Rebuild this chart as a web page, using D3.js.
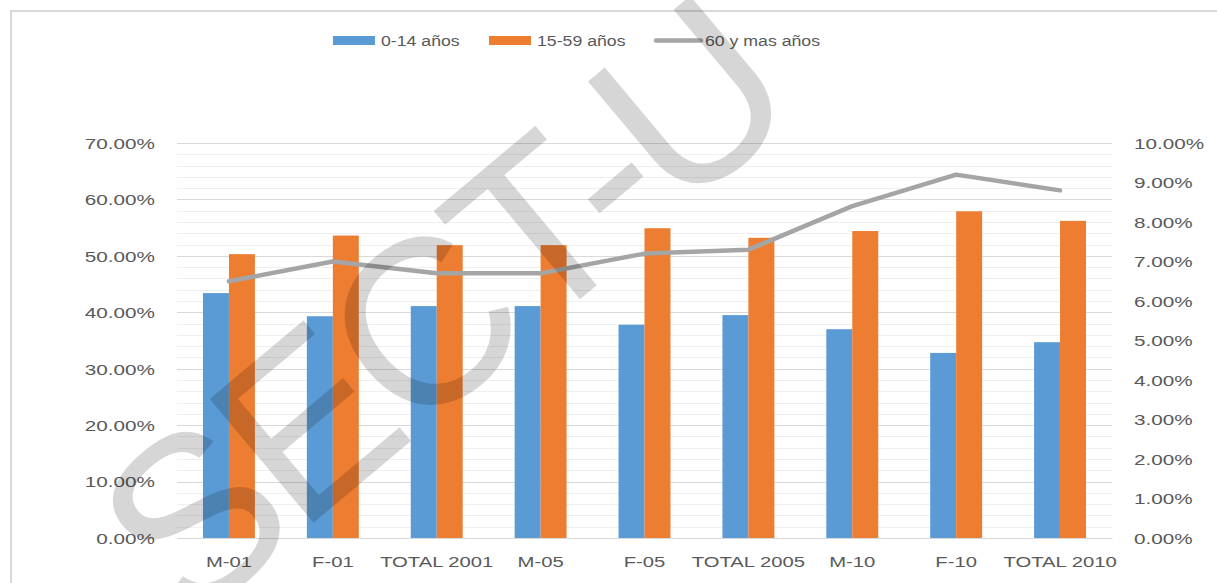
<!DOCTYPE html>
<html>
<head>
<meta charset="utf-8">
<script src="https://cdn.jsdelivr.net/npm/d3@7"></script>
<style>
  body { margin: 0; background: #fff; }
  svg { display: block; font-family: "Liberation Sans", Arial, sans-serif; }
</style>
</head>
<body>
<svg id="chart" width="1217" height="583"></svg>
<script>
const categories = ['M-01', 'F-01', 'TOTAL 2001', 'M-05', 'F-05', 'TOTAL 2005', 'M-10', 'F-10', 'TOTAL 2010'];
const age0to14 = [0.434, 0.393, 0.411, 0.411, 0.378, 0.395, 0.370, 0.328, 0.347];
const age15to59 = [0.503, 0.536, 0.519, 0.519, 0.549, 0.532, 0.544, 0.579, 0.562];
const age60plus = [0.065, 0.070, 0.067, 0.067, 0.072, 0.073, 0.084, 0.092, 0.088];
const seriesNames = ['0-14 años', '15-59 años', '60 y mas años'];

const w = 1217;
const h = 583;
const margin = { top: 143, right: 105, bottom: 45, left: 177 };
const plotW = w - margin.left - margin.right;
const plotH = h - margin.top - margin.bottom;

const blue = '#5b9bd5';
const orange = '#ed7d31';
const gray = '#a5a5a5';
const textColor = '#595959';

const svg = d3.select('#chart');

// chart frame
svg.append('rect').attr('x', 11).attr('y', 11).attr('width', w + 20).attr('height', h + 20)
    .attr('fill', 'none').attr('stroke', '#d9d9d9').attr('stroke-width', 2);

const g = svg.append('g').attr('transform', `translate(${margin.left},${margin.top})`);

const x = d3.scaleBand().domain(categories).range([0, plotW]);
const yLeft = d3.scaleLinear().domain([0, 0.7]).range([plotH, 0]);
const yRight = d3.scaleLinear().domain([0, 0.1]).range([plotH, 0]);

// gridlines: minor every 2%, major every 10%
g.append('g').selectAll('line').data(d3.range(0, 0.7001, 0.02)).enter().append('line')
    .attr('x1', 0).attr('x2', plotW)
    .attr('y1', d => Math.round(yLeft(d)) + 0.5).attr('y2', d => Math.round(yLeft(d)) + 0.5)
    .attr('stroke', '#efefef').attr('stroke-width', 1);
g.append('g').selectAll('line').data(d3.range(0, 0.7001, 0.1)).enter().append('line')
    .attr('x1', 0).attr('x2', plotW)
    .attr('y1', d => Math.round(yLeft(d)) + 0.5).attr('y2', d => Math.round(yLeft(d)) + 0.5)
    .attr('stroke', '#d9d9d9').attr('stroke-width', 1);

const fmt = d3.format('.2%');
const axisScale = 1.38;

const leftAxis = g.append('g').call(d3.axisLeft(yLeft).tickValues(d3.range(0, 0.7001, 0.1)).tickFormat(fmt).tickSize(0));
leftAxis.select('.domain').remove();
leftAxis.selectAll('text')
    .attr('x', 0).attr('dy', '0.36em')
    .attr('transform', `translate(-22,0) scale(${axisScale},1)`)
    .attr('fill', textColor).style('font-size', '15px').style('font-family', '"Liberation Sans", Arial, sans-serif');

const rightAxis = g.append('g').attr('transform', `translate(${plotW},0)`)
    .call(d3.axisRight(yRight).tickValues(d3.range(0, 0.1001, 0.01)).tickFormat(fmt).tickSize(0));
rightAxis.select('.domain').remove();
rightAxis.selectAll('text')
    .attr('x', 0).attr('dy', '0.36em')
    .attr('transform', `translate(22,0) scale(${axisScale},1)`)
    .attr('fill', textColor).style('font-size', '15px').style('font-family', '"Liberation Sans", Arial, sans-serif');

// bars
const barW = x.bandwidth() / 4;
g.append('g').selectAll('rect').data(age0to14).enter().append('rect')
    .attr('x', (d, i) => x(categories[i]) + x.bandwidth() / 2 - barW)
    .attr('y', d => yLeft(d)).attr('width', barW).attr('height', d => plotH - yLeft(d))
    .attr('fill', blue);
g.append('g').selectAll('rect').data(age15to59).enter().append('rect')
    .attr('x', (d, i) => x(categories[i]) + x.bandwidth() / 2)
    .attr('y', d => yLeft(d)).attr('width', barW).attr('height', d => plotH - yLeft(d))
    .attr('fill', orange);

// x axis
const bottomAxis = g.append('g').attr('transform', `translate(0,${plotH})`)
    .call(d3.axisBottom(x).tickSize(0));
bottomAxis.select('.domain').attr('stroke', '#d9d9d9');
bottomAxis.selectAll('text')
    .attr('y', 0).attr('dy', 0)
    .attr('transform', `translate(0,29) scale(1.35,1)`)
    .attr('fill', textColor).style('font-size', '15px').style('font-family', '"Liberation Sans", Arial, sans-serif');

// line on secondary axis
const line = d3.line().x((d, i) => x(categories[i]) + x.bandwidth() / 2).y(d => yRight(d));
g.append('path').datum(age60plus).attr('d', line)
    .attr('fill', 'none').attr('stroke', gray).attr('stroke-width', 4.5)
    .attr('stroke-linejoin', 'round').attr('stroke-linecap', 'round');

// legend
const legendItems = [
    { name: seriesNames[0], color: blue, type: 'rect', x: 333, tx: 381 },
    { name: seriesNames[1], color: orange, type: 'rect', x: 489, tx: 537 },
    { name: seriesNames[2], color: gray, type: 'line', x: 654, tx: 705 }
];
const legend = svg.append('g');
legendItems.forEach(it => {
    if (it.type === 'rect') {
        legend.append('rect').attr('x', it.x).attr('y', 36).attr('width', 42).attr('height', 9).attr('fill', it.color);
    } else {
        legend.append('line').attr('x1', it.x + 2).attr('x2', it.x + 47).attr('y1', 40.5).attr('y2', 40.5)
            .attr('stroke', it.color).attr('stroke-width', 4.5).attr('stroke-linecap', 'round');
    }
    legend.append('text').attr('transform', `translate(${it.tx},46) scale(1.18,1)`)
        .attr('fill', textColor).style('font-size', '15px').text(it.name);
});

// watermark
const wmSize = 235;
svg.append('g').attr('transform', 'translate(422,322) rotate(-40)')
    .append('text').attr('x', -1.695 * wmSize + 20).attr('y', 0.358 * wmSize)
    .style('font-size', wmSize + 'px').style('letter-spacing', '-10px')
    .style('font-family', '"Liberation Sans", Arial, sans-serif')
    .attr('fill', '#000').attr('fill-opacity', 0.16).text('SECT-U');
</script>
</body>
</html>
